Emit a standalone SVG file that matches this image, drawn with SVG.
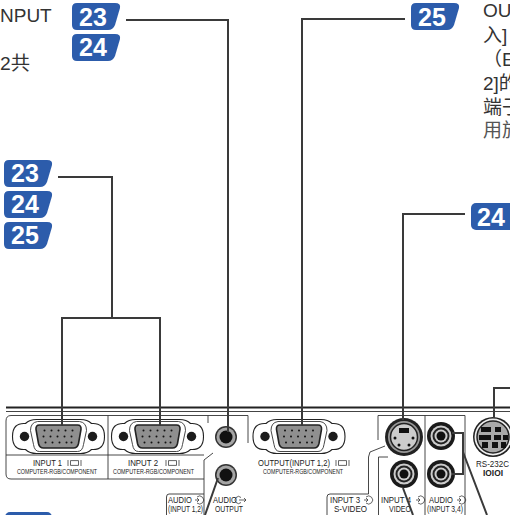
<svg xmlns="http://www.w3.org/2000/svg" width="510" height="515" viewBox="0 0 510 515">
<style>
.body{font-family:"Liberation Sans","Noto Sans CJK SC",sans-serif;font-size:19px;fill:#333}
.num{font-family:"Liberation Sans",sans-serif;font-size:25px;font-weight:bold;fill:#fff;text-anchor:middle}
.lab{font-family:"Liberation Sans",sans-serif;font-size:8.500px;fill:#222}
.sm{font-family:"Liberation Sans",sans-serif;font-size:7px;fill:#222}
.badge{fill:#2c5cab}
.lead{fill:none;stroke:#3a3a3a;stroke-width:2}
.thin{fill:none;stroke:#333;stroke-width:.9}
.shell{fill:#fff;stroke:#222;stroke-width:1.1}
.dsub{fill:#8f8f8f;stroke:#222;stroke-width:1.6}
.pin{fill:#111}
.sc{fill:#1c1c1c}
.ico{fill:none;stroke:#222;stroke-width:.7}
</style>
<defs>
<path id="b" class="badge" d="M5 0H43Q49 0 48 5L43 22Q41 27 36 27H5Q0 27 0 22V5Q0 0 5 0Z"/>
<g id="vga">
<path class="shell" d="M-22 -17H22Q29 -17 33 -13Q46 -14 46 0Q46 14 33 13Q29 17 22 17H-22Q-29 17 -33 13Q-46 14 -46 0Q-46 -14 -33 -13Q-29 -17 -22 -17Z"/>
<path class="thin" d="M-21 -15Q-28 -14 -28 -6L-25 8Q-24 15 -19 15H19Q24 15 25 8L28 -6Q28 -14 21 -15Z"/>
<circle class="sc" cx="-34" cy="0" r="4.700"/><circle class="sc" cx="34" cy="0" r="4.700"/>
<path class="dsub" d="M-19 -11.500H19Q23 -11.500 22.500 -7L20 7Q19 11.500 15 11.500H-15Q-19 11.500 -20 7L-22.500 -7Q-23 -11.500 -19 -11.500Z"/>
<g class="pin">
<circle cx="-14" cy="-6" r="1"/><circle cx="-7" cy="-6" r="1"/><circle cx="0" cy="-6" r="1"/><circle cx="7" cy="-6" r="1"/><circle cx="14" cy="-6" r="1"/>
<circle cx="-15" cy="0" r="1"/><circle cx="-8" cy="0" r="1"/><circle cx="-1" cy="0" r="1"/><circle cx="6" cy="0" r="1"/><circle cx="13" cy="0" r="1"/>
<circle cx="-13" cy="6" r="1"/><circle cx="-6" cy="6" r="1"/><circle cx="1" cy="6" r="1"/><circle cx="8" cy="6" r="1"/><circle cx="13" cy="6" r="1"/>
</g>
</g>
<g id="jack"><circle r="11" fill="#333"/><circle r="9.500" fill="#a5a5a5"/><circle r="6.500" fill="#111"/></g>
<g id="rca"><circle r="14" fill="#1a1a1a"/><circle r="10.500" fill="#ccc"/><circle r="8.500" fill="#222"/><circle r="6.500" fill="#ccc"/><circle r="4.500" fill="#111"/></g>
<path id="mon" class="ico" d="M0 0V6M2.500 .6H10.500V5.400H2.500ZM13 0V6"/>
<g id="icoin"><path class="ico" d="M0 -3H-4M-2 -5L0 -3L-2 -1M-2 -6A4 4 0 1 1 -2 0"/></g>
<g id="icoout"><path class="ico" d="M2 -5.500A3.500 3.500 0 1 0 2 -.5M0 -3H7M5 -5L7 -3L5 -1"/></g>
</defs>

<g id="text-left">
<text class="body" x="0" y="22">NPUT</text>
<text class="body" x="0" y="70" textLength="30" lengthAdjust="spacingAndGlyphs">2共</text>
</g>
<g id="text-right">
<text class="body" x="483" y="17">OUTPUT</text>
<text class="body" x="483" y="42">入]</text>
<text class="body" x="483" y="66">（EIA</text>
<text class="body" x="483" y="90">2]的</text>
<text class="body" x="483" y="114">端子</text>
<text class="body" x="483" y="137" style="fill:#555">用於</text>
</g>

<g id="panel">
<path d="M6 407.500H510" stroke="#222" stroke-width="1.800"/>
<path d="M6 411.500H510" stroke="#444" stroke-width="1"/>
<path class="thin" d="M6 421Q6 415.500 11 415.500H248V443M208 415.500V423"/>
<path class="thin" d="M6 421V474Q6 479 11 479H204M6 455H204M108 415.500V479"/>
<path class="thin" d="M213 453L204 460V515M204 494H169Q166.500 494 166.500 497V515"/>
<path class="thin" d="M378 440V415.500H465V515M425 415.500V515"/>
<path class="thin" d="M385 446L370 452L368.500 457V494H330Q327 494 327 497V515"/>
<path class="thin" d="M388 457H378.500V515"/>
</g>

<g id="port-input1"><use href="#vga" x="58.500" y="436.500"/><text class="lab" x="33" y="466" textLength="29" lengthAdjust="spacingAndGlyphs">INPUT 1</text><use href="#mon" x="68" y="460"/><text class="sm" x="17" y="474" textLength="80" lengthAdjust="spacingAndGlyphs">COMPUTER-RGB/COMPONENT</text></g>
<g id="port-input2"><use href="#vga" x="157.500" y="436.500"/><text class="lab" x="128" y="466" textLength="30" lengthAdjust="spacingAndGlyphs">INPUT 2</text><use href="#mon" x="166" y="460"/><text class="sm" x="113" y="474" textLength="81" lengthAdjust="spacingAndGlyphs">COMPUTER-RGB/COMPONENT</text></g>
<g id="port-output"><use href="#vga" x="299" y="436.500"/><text class="lab" x="258" y="466" textLength="72" lengthAdjust="spacingAndGlyphs">OUTPUT(INPUT 1,2)</text><use href="#mon" x="336" y="460"/><text class="sm" x="263" y="474" textLength="80" lengthAdjust="spacingAndGlyphs">COMPUTER-RGB/COMPONENT</text></g>
<g id="port-audio-in"><use href="#jack" x="226" y="437"/></g>
<g id="port-audio-out"><use href="#jack" x="226" y="475"/></g>
<g id="label-audio-in"><text class="lab" x="168" y="503" textLength="24" lengthAdjust="spacingAndGlyphs">AUDIO</text><use href="#icoin" x="199" y="503"/><text class="lab" x="168" y="512" textLength="35" lengthAdjust="spacingAndGlyphs">(INPUT 1,2)</text></g>
<g id="label-audio-out"><text class="lab" x="213" y="503" textLength="24" lengthAdjust="spacingAndGlyphs">AUDIO</text><use href="#icoout" x="239" y="503"/><text class="lab" x="215" y="512" textLength="28" lengthAdjust="spacingAndGlyphs">OUTPUT</text></g>
<g id="port-svideo"><circle cx="404" cy="437" r="19" fill="#222"/><circle cx="404" cy="437" r="16" fill="#999"/><circle cx="404" cy="437" r="13.500" fill="#ccc" stroke="#222" stroke-width="1.500"/><rect x="399" y="428" width="10" height="5" fill="#111"/><circle class="pin" cx="395" cy="438" r="1.500"/><circle class="pin" cx="413" cy="438" r="1.500"/><circle class="pin" cx="399" cy="445" r="1.500"/><circle class="pin" cx="409" cy="445" r="1.500"/></g>
<g id="port-audio3a"><use href="#rca" x="441" y="436"/></g>
<g id="port-video"><use href="#rca" x="404" y="474"/></g>
<g id="port-audio3b"><use href="#rca" x="441" y="474"/></g>
<g id="port-rs232"><circle cx="493" cy="437" r="20" fill="#222"/><circle cx="493" cy="437" r="18.500" fill="#eee"/><circle cx="493" cy="437" r="16" fill="#aaa" stroke="#222" stroke-width="1.500"/><rect x="481" y="427" width="10" height="5" fill="#111"/><rect x="495" y="427" width="6" height="5" fill="#111"/><rect x="479" y="435" width="12" height="5" fill="#111"/><rect x="494" y="435" width="7" height="5" fill="#111"/><rect x="503" y="435" width="5" height="5" fill="#111"/><rect x="482" y="442" width="6" height="6" fill="#111"/><rect x="492" y="442" width="6" height="6" fill="#111"/><rect x="501" y="442" width="5" height="6" fill="#111"/><text class="lab" x="476" y="467" textLength="33" lengthAdjust="spacingAndGlyphs">RS-232C</text><text class="lab" x="483" y="476" textLength="20" lengthAdjust="spacingAndGlyphs" style="font-weight:bold">IOIOI</text></g>
<g id="label-svideo"><text class="lab" x="330" y="503" textLength="30" lengthAdjust="spacingAndGlyphs">INPUT 3</text><use href="#icoin" x="368" y="503"/><text class="lab" x="334" y="512" textLength="33" lengthAdjust="spacingAndGlyphs">S-VIDEO</text></g>
<g id="label-video"><text class="lab" x="381" y="503" textLength="30" lengthAdjust="spacingAndGlyphs">INPUT 4</text><use href="#icoin" x="420" y="503"/><text class="lab" x="389" y="512" textLength="22" lengthAdjust="spacingAndGlyphs">VIDEO</text></g>
<g id="label-audio3"><text class="lab" x="429" y="503" textLength="24" lengthAdjust="spacingAndGlyphs">AUDIO</text><use href="#icoin" x="461" y="503"/><text class="lab" x="427" y="512" textLength="36" lengthAdjust="spacingAndGlyphs">(INPUT 3,4)</text></g>

<g id="connectors">
<path class="lead" d="M126 20H228V432"/>
<path class="lead" d="M405 19H302V426"/>
<path class="lead" d="M58 177H112V318M62 426V318H160V426"/>
<path class="lead" d="M465 214H403V420"/>
<path class="lead" d="M510 388H494V418"/>
<path class="lead" d="M218 478L205 515"/>
<path class="lead" d="M403 488L413 515"/>
<path class="lead" d="M452 433H463V474H452M463 452L487 515"/>
</g>

<g id="badge-23a"><use href="#b" x="72" y="3"/><text class="num" x="93" y="26">23</text></g>
<g id="badge-24a"><use href="#b" x="72" y="34"/><text class="num" x="93" y="56">24</text></g>
<g id="badge-23b"><use href="#b" x="4" y="160"/><text class="num" x="25" y="182">23</text></g>
<g id="badge-24b"><use href="#b" x="4" y="191"/><text class="num" x="25" y="213">24</text></g>
<g id="badge-25b"><use href="#b" x="4" y="222"/><text class="num" x="25" y="244">25</text></g>
<g id="badge-25a"><use href="#b" x="411" y="3"/><text class="num" x="432" y="26">25</text></g>
<g id="badge-24c"><rect class="badge" x="471" y="203" width="50" height="27" rx="5"/><text class="num" x="491" y="226">24</text></g>
<g id="badge-cut"><rect class="badge" x="5" y="512" width="47" height="20" rx="5"/></g>
</svg>
